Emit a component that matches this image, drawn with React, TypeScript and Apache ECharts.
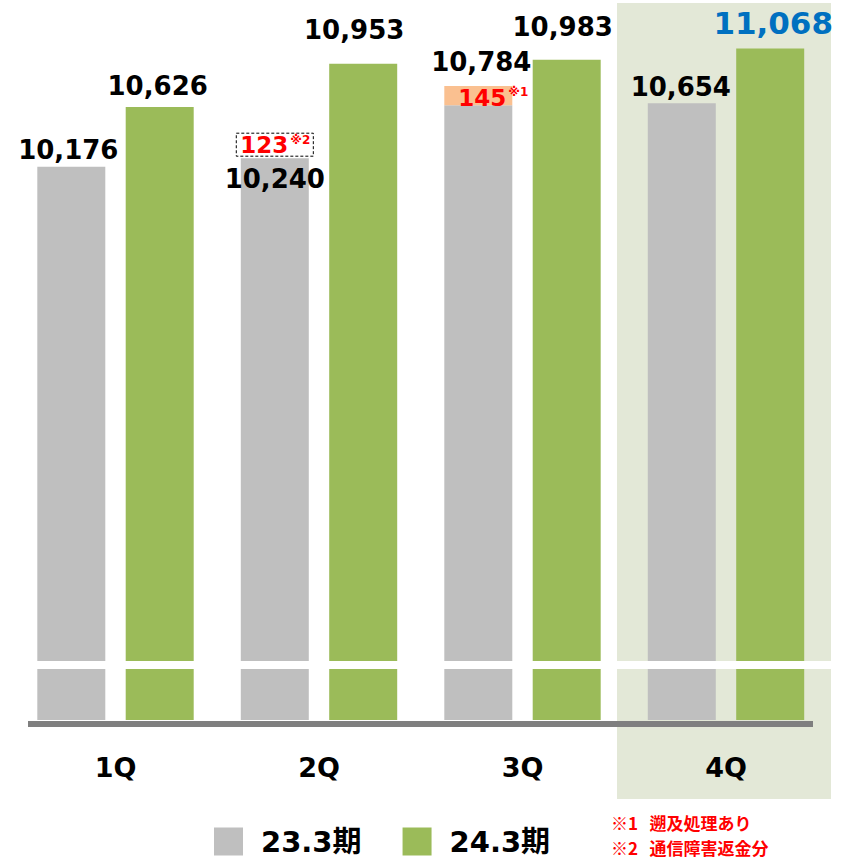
import React, { useEffect, useRef } from "react";
import * as echarts from "echarts";

// ---- data ----
const categories = ["1Q", "2Q", "3Q", "4Q"];
const fy23Reported = [10176, 10240, 10784, 10654]; // 23.3期 (reported)
const fy23Retro = [null, null, 145, null]; // ※1 遡及処理あり
const fy23Refund = [null, 123, null, null]; // ※2 通信障害返金分
const fy24 = [10626, 10953, 10983, 11068]; // 24.3期
const legendNames = ["23.3期", "24.3期"];
const noteMarks = ["※1", "※2"];
const noteTexts = ["遡及処理あり", "通信障害返金分"];

// ---- label placement (styles, kept apart from values) ----
const GRAY_GAP = [4, 8, 0, 3];
const GRAY_DX = [-3, 0, 0, -1];
const GREEN_GAP = [8, 21, 20, 10];
const GREEN_DX = [-2, -9, -4, 3];

const NUM_FONT = '"DejaVu Sans", Verdana, sans-serif';
const JP_FONT = '"DejaVu Sans", "Noto Sans CJK JP", sans-serif';
const fmt = (v: number) => v.toLocaleString("en-US");

export default function App() {
  const ref = useRef<HTMLDivElement>(null);

  useEffect(() => {
    if (!ref.current) return;
    const chart = echarts.init(ref.current, undefined, { renderer: "svg" });

    const fy23Base = fy23Reported.map((v, i) => v - (fy23Retro[i] ?? 0));

    const grayData = fy23Base.map((v, i) => {
      if (i === 2) return { value: v, label: { show: false } };
      if (i === 1)
        return {
          value: v,
          label: {
            show: true,
            position: "insideTop",
            distance: GRAY_GAP[i],
            offset: [GRAY_DX[i], 0],
            formatter: fmt(fy23Reported[i]),
          },
        };
      return {
        value: v,
        label: {
          show: true,
          position: "top",
          distance: GRAY_GAP[i],
          offset: [GRAY_DX[i], 0],
          formatter: fmt(fy23Reported[i]),
        },
      };
    });

    const totalLabelData = fy23Retro.map((r, i) =>
      r == null
        ? null
        : {
            value: 0,
            label: {
              show: true,
              position: "top",
              distance: 11,
              offset: [3, 0],
              formatter: fmt(fy23Reported[i]),
            },
          }
    );

    const greenData = fy24.map((v, i) => ({
      value: v,
      label: {
        show: true,
        position: "top",
        distance: GREEN_GAP[i],
        offset: [GREEN_DX[i], 0],
        formatter: fmt(v),
        ...(i === 3 ? { color: "#0070C0", fontSize: 31 } : {}),
      },
    }));

    const baseLabel = {
      color: "#000",
      fontSize: 26,
      fontWeight: "bold" as const,
      fontFamily: NUM_FONT,
    };

    const noteText = noteMarks.map((m, i) => `${m}   ${noteTexts[i]}`).join("\n");

    const option: any = {
      animation: false,
      grid: { left: 13.75, right: 16.25, top: 31, bottom: 138 },
      xAxis: {
        type: "category",
        data: categories,
        axisLine: { show: false },
        axisTick: { show: false },
        axisLabel: {
          margin: 34,
          fontSize: 27,
          fontWeight: "bold",
          fontFamily: NUM_FONT,
          color: "#000",
        },
      },
      yAxis: {
        type: "value",
        min: 6000,
        max: 11200,
        show: false,
        splitLine: { show: false },
      },
      legend: {
        data: legendNames,
        left: 214,
        top: 827,
        padding: 0,
        itemWidth: 29,
        itemHeight: 28,
        itemGap: 41,
        icon: "rect",
        textStyle: {
          fontSize: 29,
          lineHeight: 28,
          fontWeight: "bold",
          fontFamily: JP_FONT,
          color: "#000",
          padding: [0, 0, 0, 13],
        },
      },
      series: [
        {
          name: legendNames[0],
          type: "bar",
          stack: "fy23",
          barWidth: 68,
          barGap: "30%",
          itemStyle: { color: "#BFBFBF" },
          label: baseLabel,
          data: grayData,
        },
        {
          name: "retro",
          type: "bar",
          stack: "fy23",
          barWidth: 68,
          itemStyle: { color: "#FAC090" },
          label: {
            show: true,
            position: "inside",
            offset: [15, 2],
            formatter: "{a|{c}}{b|※1}",
            rich: {
              a: { color: "#FF0000", fontSize: 23, fontWeight: "bold", fontFamily: NUM_FONT },
              b: {
                color: "#FF0000",
                fontSize: 12,
                fontWeight: "bold",
                fontFamily: JP_FONT,
                verticalAlign: "top",
                padding: [0, 0, 0, 2],
              },
            },
          },
          data: fy23Retro,
        },
        {
          name: "refund",
          type: "bar",
          stack: "fy23",
          barWidth: 68,
          itemStyle: { color: "rgba(0,0,0,0)" },
          label: {
            show: true,
            position: "insideBottom",
            distance: 2,
            formatter: "{a|{c}}{b|※2}",
            borderColor: "#000",
            borderWidth: 1,
            borderType: [3, 2],
            padding: [1, 3, 0, 4],
            lineHeight: 22,
            rich: {
              a: {
                color: "#FF0000",
                fontSize: 23,
                fontWeight: "bold",
                fontFamily: NUM_FONT,
                lineHeight: 22,
              },
              b: {
                color: "#FF0000",
                fontSize: 12,
                fontWeight: "bold",
                fontFamily: JP_FONT,
                verticalAlign: "top",
                padding: [0, 0, 0, 2],
              },
            },
          },
          data: fy23Refund,
        },
        {
          name: "total",
          type: "bar",
          stack: "fy23",
          barWidth: 68,
          itemStyle: { color: "rgba(0,0,0,0)" },
          label: baseLabel,
          data: totalLabelData,
        },
        {
          name: legendNames[1],
          type: "bar",
          stack: "fy24",
          barWidth: 68,
          barGap: "30%",
          itemStyle: { color: "#9BBB59" },
          label: baseLabel,
          data: greenData,
        },
      ],
      graphic: [
        {
          type: "rect",
          z: -10,
          silent: true,
          shape: { x: 617, y: 3, width: 214, height: 796 },
          style: { fill: "#E3E8D7" },
        },
        {
          type: "rect",
          z: 100,
          silent: true,
          shape: { x: 0, y: 661, width: 831, height: 8 },
          style: { fill: "#FFFFFF" },
        },
        {
          type: "rect",
          z: 101,
          silent: true,
          shape: { x: 28, y: 721, width: 785, height: 6 },
          style: { fill: "#7F7F7F" },
        },
        {
          type: "text",
          z: 101,
          x: 611,
          y: 809.5,
          style: {
            text: noteText,
            fill: "#FF0000",
            font: 'bold 17px "Noto Sans CJK JP", sans-serif',
            lineHeight: 25,
            verticalAlign: "top",
          },
        },
      ],
    };

    chart.setOption(option);
    return () => chart.dispose();
  }, []);

  return (
    <div
      ref={ref}
      style={{ position: "fixed", left: 0, top: 0, width: 844, height: 858, background: "#fff" }}
    />
  );
}
